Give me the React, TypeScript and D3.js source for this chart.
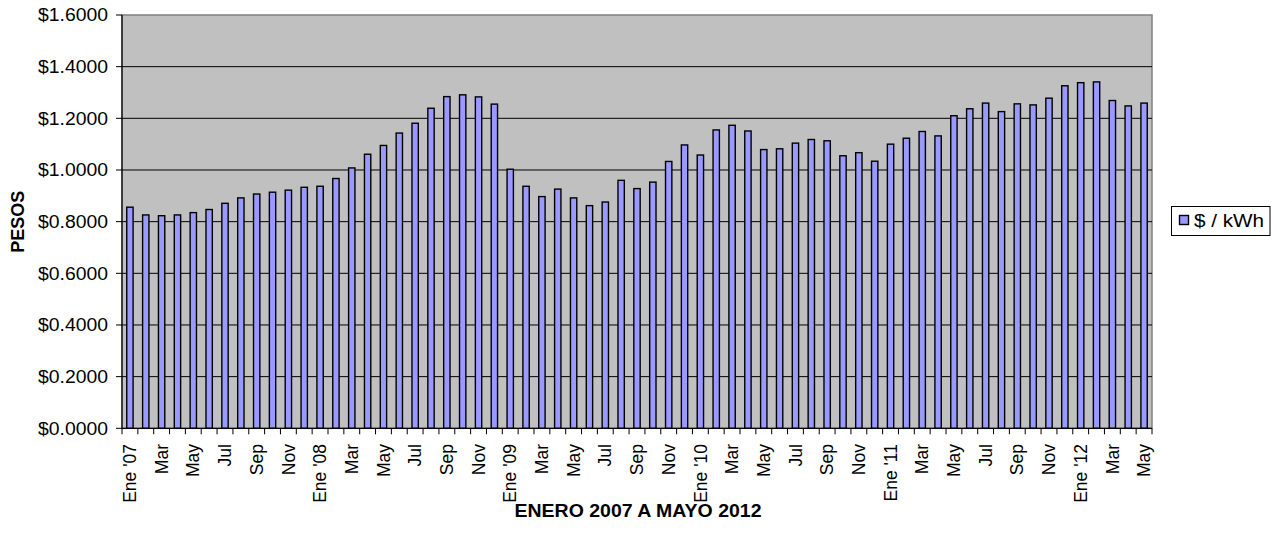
import React from "react";
import * as d3 from "d3";

const monthLabels = ["Ene", "Feb", "Mar", "Abr", "May", "Jun", "Jul", "Ago", "Sep", "Oct", "Nov", "Dic"];
const years = ["07", "08", "09", "10", "11", "12"];
const categories: string[] = [];
years.forEach((y) => {
  monthLabels.forEach((m, i) => {
    if (y === "12" && i > 4) return;
    categories.push(i === 0 ? `Ene '${y}` : m);
  });
});

const values = [
  0.856, 0.826, 0.823, 0.826, 0.835, 0.847, 0.871, 0.892, 0.907, 0.914, 0.922, 0.933,
  0.937, 0.967, 1.008, 1.061, 1.095, 1.143, 1.181, 1.239, 1.284, 1.291, 1.283, 1.255,
  1.003, 0.937, 0.897, 0.926, 0.892, 0.862, 0.876, 0.960, 0.928, 0.953, 1.033, 1.097,
  1.058, 1.155, 1.173, 1.151, 1.079, 1.082, 1.104, 1.118, 1.113, 1.055, 1.067, 1.034,
  1.100, 1.123, 1.149, 1.132, 1.210, 1.237, 1.259, 1.226, 1.256, 1.252, 1.278, 1.326,
  1.338, 1.341, 1.269, 1.248, 1.259,
];

const yTicks = [0, 0.2, 0.4, 0.6, 0.8, 1.0, 1.2, 1.4, 1.6];
const seriesName = "$ / kWh";
const xTitle = "ENERO 2007 A MAYO 2012";
const yTitle = "PESOS";

const W = 1277;
const H = 540;
const plot = { left: 122, top: 15, right: 1152, bottom: 428.3 };
const FONT = "'Liberation Sans', Arial, Helvetica, sans-serif";

export default function App() {
  const idx = categories.map((_, i) => String(i));
  const x = d3
    .scaleBand<string>()
    .domain(idx)
    .range([plot.left, plot.right])
    .paddingInner(0.6)
    .paddingOuter(0.3);
  const step = (plot.right - plot.left) / categories.length;
  const y = d3.scaleLinear().domain([0, 1.6]).range([plot.bottom, plot.top]);
  const fmt = (v: number) => "$" + v.toFixed(4);

  return (
    <svg
      width={W}
      height={H}
      style={{ position: "absolute", left: 0, top: 0, background: "#fff" }}
      fontFamily={FONT}
    >
      <rect
        x={plot.left}
        y={plot.top}
        width={plot.right - plot.left}
        height={plot.bottom - plot.top}
        fill="#C0C0C0"
        stroke="#808080"
        strokeWidth={1.5}
      />
      {yTicks.slice(1, -1).map((t) => (
        <line key={t} x1={plot.left} x2={plot.right} y1={y(t)} y2={y(t)} stroke="#000" strokeWidth={1} />
      ))}
      {values.map((v, i) => (
        <rect
          key={i}
          x={x(String(i))!}
          y={y(v)}
          width={x.bandwidth()}
          height={y(0) - y(v)}
          fill="#9999FF"
          stroke="#000"
          strokeWidth={1.4}
        />
      ))}
      {/* axes */}
      <line x1={plot.left} x2={plot.left} y1={plot.top} y2={plot.bottom} stroke="#000" strokeWidth={1.2} />
      <line x1={plot.left} x2={plot.right} y1={plot.bottom} y2={plot.bottom} stroke="#000" strokeWidth={1.2} />
      {yTicks.map((t) => (
        <g key={t}>
          <line x1={plot.left - 6} x2={plot.left} y1={y(t)} y2={y(t)} stroke="#000" />
          <text
            x={108}
            y={y(t)}
            dy="0.35em"
            textAnchor="end"
            fontSize={18}
            fill="#000"
            textLength={70}
            lengthAdjust="spacingAndGlyphs"
          >
            {fmt(t)}
          </text>
        </g>
      ))}
      {d3.range(categories.length + 1).map((i) => (
        <line
          key={i}
          x1={plot.left + i * step}
          x2={plot.left + i * step}
          y1={plot.bottom}
          y2={plot.bottom + 6}
          stroke="#000"
        />
      ))}
      {categories.map((c, i) =>
        i % 2 === 0 ? (
          <text
            key={i}
            transform={`translate(${x(String(i))! + x.bandwidth() / 2},444) rotate(-90)`}
            textAnchor="end"
            dy="0.35em"
            fontSize={17.5}
            fill="#000"
          >
            {c}
          </text>
        ) : null
      )}
      <text
        x={(plot.left + plot.right) / 2 + 1}
        y={517}
        textAnchor="middle"
        fontSize={18}
        fontWeight="bold"
        fill="#000"
        textLength={247}
        lengthAdjust="spacingAndGlyphs"
      >
        {xTitle}
      </text>
      <text
        transform={`translate(18,${(plot.top + plot.bottom) / 2}) rotate(-90)`}
        textAnchor="middle"
        dy="0.35em"
        fontSize={18}
        fontWeight="bold"
        fill="#000"
      >
        {yTitle}
      </text>
      {/* legend */}
      <rect x={1171.5} y={206.5} width={98.5} height={29} fill="#fff" stroke="#000" strokeWidth={1} />
      <rect x={1179.5} y={215.5} width={9} height={9} fill="#9999FF" stroke="#000" strokeWidth={1.4} />
      <text
        x={1194}
        y={221}
        dy="0.35em"
        fontSize={18.5}
        fill="#000"
        textLength={70}
        lengthAdjust="spacingAndGlyphs"
      >
        {seriesName}
      </text>
    </svg>
  );
}
